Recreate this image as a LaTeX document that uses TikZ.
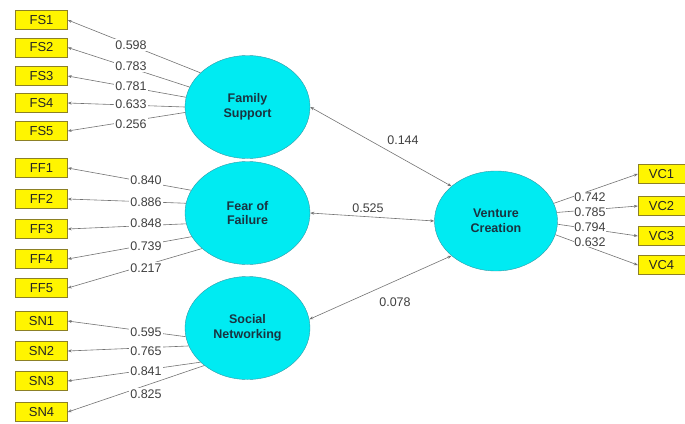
\documentclass[tikz,border=0pt]{standalone}
\usepackage{fontspec}
\setmainfont{Liberation Sans}
\usetikzlibrary{arrows.meta}
\usetikzlibrary{shapes.geometric}
\definecolor{mcyan}{rgb}{0.0, 0.92, 0.95}
\definecolor{mteal}{rgb}{0.2, 0.6, 0.65}
\definecolor{myellow}{rgb}{1.0, 0.96, 0.0}
\definecolor{molive}{rgb}{0.55, 0.5, 0.15}
\definecolor{mgrey}{rgb}{0.45, 0.45, 0.45}
\definecolor{mtext}{rgb}{0.1, 0.2, 0.25}
\tikzset{ind/.style = {draw=molive, fill=myellow, minimum width=52, minimum height=19, inner sep=0,
                       text=black!85, font=\fontsize{13}{14}\selectfont}}
\tikzset{lat/.style = {ellipse, draw=mteal, fill=mcyan, minimum width=125, minimum height=103,
                       align=center, text=mtext, font=\bfseries\fontsize{12.5}{14.5}\selectfont}}
\tikzset{load/.style = {fill=white, inner sep=1.5, text=black!75, font=\fontsize{12.5}{13}\selectfont}}
\tikzset{lnk/.style = {draw=mgrey, line width=0.6, -{Stealth[length=4, width=3]}}}
\tikzset{both/.style = {draw=mgrey, line width=0.6, {Stealth[length=4, width=3]}-{Stealth[length=4, width=3]}}}

\begin{document}
\begin{tikzpicture}[x=1pt, y=-1pt]
      \useasboundingbox (0, 0) rectangle (685, 423);

      % constructs
      \node [lat] (fs) at (247.5, 107) {Family\\Support};
      \node [lat] (ff) at (247.5, 213) {Fear of\\Failure};
      \node [lat] (sn) at (247.5, 328) {Social\\Networking};
      \node [lat, minimum width=123, minimum height=100] (vc) at (496, 221) {Venture\\Creation};

      % indicators
      \node [ind] (fs1) at (41.5, 20) {FS1};
      \node [ind] (fs2) at (41.5, 47.5) {FS2};
      \node [ind] (fs3) at (41.5, 76) {FS3};
      \node [ind] (fs4) at (41.5, 103) {FS4};
      \node [ind] (fs5) at (41.5, 131) {FS5};

      \node [ind] (ff1) at (41.5, 168) {FF1};
      \node [ind] (ff2) at (41.5, 199) {FF2};
      \node [ind] (ff3) at (41.5, 229) {FF3};
      \node [ind] (ff4) at (41.5, 259) {FF4};
      \node [ind] (ff5) at (41.5, 288) {FF5};

      \node [ind] (sn1) at (41.5, 321) {SN1};
      \node [ind] (sn2) at (41.5, 351) {SN2};
      \node [ind] (sn3) at (41.5, 381) {SN3};
      \node [ind] (sn4) at (41.5, 412) {SN4};

      \node [ind, minimum width=47] (vc1) at (661.5, 174) {VC1};
      \node [ind, minimum width=47] (vc2) at (661.5, 206) {VC2};
      \node [ind, minimum width=47] (vc3) at (661.5, 236) {VC3};
      \node [ind, minimum width=47] (vc4) at (661.5, 265) {VC4};

      % loadings
      \draw [lnk] (fs.144) -- (fs1.east);
      \draw [lnk] (fs.161) -- (fs2.east);
      \draw [lnk] (fs.171) -- (fs3.east);
      \draw [lnk] (fs.180) -- (fs4.east);
      \draw [lnk] (fs.185) -- (fs5.east);

      \draw [lnk] (ff.158) -- (ff1.east);
      \draw [lnk] (ff.171) -- (ff2.east);
      \draw [lnk] (ff.190) -- (ff3.east);
      \draw [lnk] (ff.203) -- (ff4.east);
      \draw [lnk] (ff.218) -- (ff5.east);

      \draw [lnk] (sn.188) -- (sn1.east);
      \draw [lnk] (sn.197) -- (sn2.east);
      \draw [lnk] (sn.216) -- (sn3.east);
      \draw [lnk] (sn.221) -- (sn4.east);

      \draw [lnk] (vc.17) -- (vc1.west);
      \draw [lnk] (vc.8) -- (vc2.west);
      \draw [lnk] (vc.-3) -- (vc3.west);
      \draw [lnk] (vc.-13) -- (vc4.west);

      \node [load] (fs1l) at (131, 45) {0.598};
      \node [load] (fs2l) at (131, 66) {0.783};
      \node [load] (fs3l) at (131, 86) {0.781};
      \node [load] (fs4l) at (131, 104) {0.633};
      \node [load] (fs5l) at (131, 124) {0.256};

      \node [load] (ff1l) at (146, 180) {0.840};
      \node [load] (ff2l) at (146, 202) {0.886};
      \node [load] (ff3l) at (146, 223) {0.848};
      \node [load] (ff4l) at (146, 246) {0.739};
      \node [load] (ff5l) at (146, 268) {0.217};

      \node [load] (sn1l) at (146, 332) {0.595};
      \node [load] (sn2l) at (146, 351) {0.765};
      \node [load] (sn3l) at (146, 371) {0.841};
      \node [load] (sn4l) at (146, 394) {0.825};

      \node [load, inner sep=0.5] (vc1l) at (590, 197) {0.742};
      \node [load, inner sep=0.5] (vc2l) at (590, 212) {0.785};
      \node [load, inner sep=0.5] (vc3l) at (590, 227) {0.794};
      \node [load, inner sep=0.5] (vc4l) at (590, 242) {0.632};

      % paths
      \draw [both] (fs.east) -- (vc.142);
      \draw [both] (ff.east) -- (vc.west);
      \draw [both] (sn.8) -- (vc.218);

      \node [load] (p1) at (403, 140) {0.144};
      \node [load] (p2) at (368, 208) {0.525};
      \node [load] (p3) at (395, 302) {0.078};
    \end{tikzpicture}
\end{document}
